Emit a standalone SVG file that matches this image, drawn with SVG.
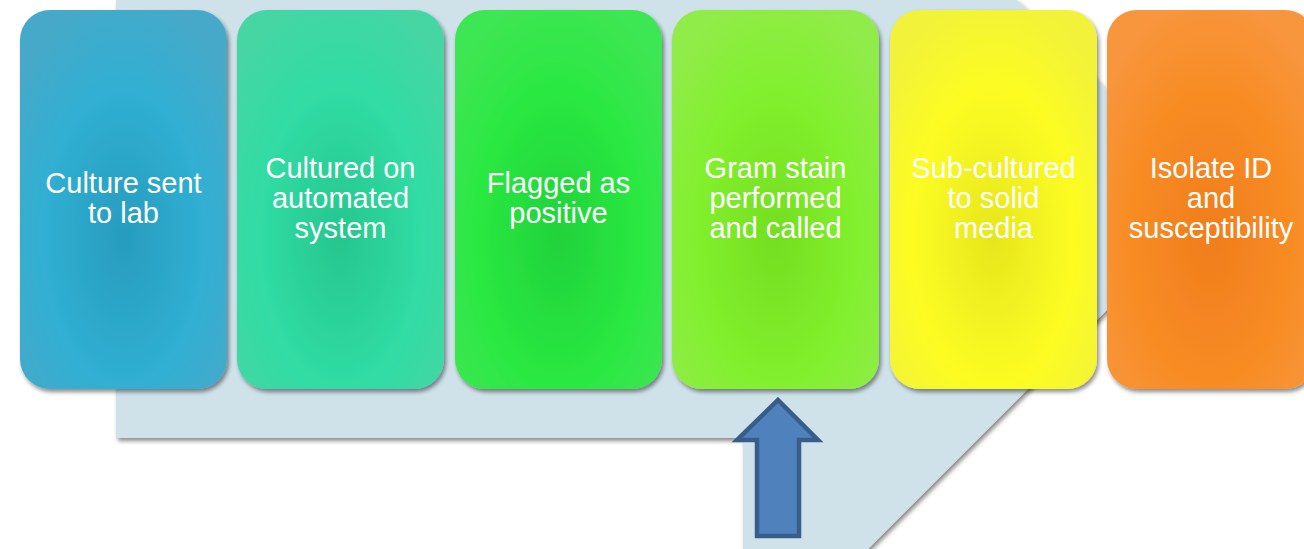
<svg xmlns="http://www.w3.org/2000/svg" width="1304" height="549" viewBox="0 0 1304 549">
<style>
.lbl{font-family:"Liberation Sans",Arial,sans-serif;font-size:29px;fill:#ffffff;text-anchor:middle}
.box{filter:url(#sh)}
</style>
<defs>
<filter id="sh" x="-10%" y="-10%" width="130%" height="130%">
<feDropShadow dx="2" dy="3" stdDeviation="2" flood-color="#000" flood-opacity="0.45"/>
</filter>
<radialGradient id="g1" cx="50%" cy="60%" r="65%"><stop offset="0" stop-color="#279cbe"/><stop offset="0.6" stop-color="#30afd2"/><stop offset="1" stop-color="#46a9c9"/></radialGradient>
<radialGradient id="g2" cx="50%" cy="60%" r="65%"><stop offset="0" stop-color="#26c68e"/><stop offset="0.6" stop-color="#30dca3"/><stop offset="1" stop-color="#44d6a4"/></radialGradient>
<radialGradient id="g3" cx="50%" cy="60%" r="65%"><stop offset="0" stop-color="#20d23a"/><stop offset="0.6" stop-color="#2ae842"/><stop offset="1" stop-color="#3ee652"/></radialGradient>
<radialGradient id="g4" cx="50%" cy="60%" r="65%"><stop offset="0" stop-color="#74de20"/><stop offset="0.6" stop-color="#82f02e"/><stop offset="1" stop-color="#90ec48"/></radialGradient>
<radialGradient id="g5" cx="50%" cy="60%" r="65%"><stop offset="0" stop-color="#e6e61e"/><stop offset="0.6" stop-color="#fcfc22"/><stop offset="1" stop-color="#f2f23a"/></radialGradient>
<radialGradient id="g6" cx="50%" cy="60%" r="65%"><stop offset="0" stop-color="#f07d1c"/><stop offset="0.6" stop-color="#f88c24"/><stop offset="1" stop-color="#f8963e"/></radialGradient>
</defs>
<g id="background">
<polygon points="116,0 1017,0 1217,200 868,549 743,549 743,438 116,438" fill="#cfe2ea" filter="url(#sh)"/>
</g>
<g id="connectors">
<polygon points="778,400 818,440 799,440 799,536 757,536 757,440 737,440" fill="#4f81bd" stroke="#385d8a" stroke-width="4.5" stroke-linejoin="miter"/>
</g>
<g id="n1"><rect class="box" x="20" y="10" width="207" height="379" rx="30" fill="url(#g1)"/>
<text class="lbl" x="123.5" y="193">Culture sent</text><text class="lbl" x="123.5" y="223">to lab</text></g>
<g id="n2"><rect class="box" x="237" y="10" width="207" height="379" rx="30" fill="url(#g2)"/>
<text class="lbl" x="340.5" y="178">Cultured on</text><text class="lbl" x="340.5" y="208">automated</text><text class="lbl" x="340.5" y="238">system</text></g>
<g id="n3"><rect class="box" x="455" y="10" width="207" height="379" rx="30" fill="url(#g3)"/>
<text class="lbl" x="558.5" y="193">Flagged as</text><text class="lbl" x="558.5" y="223">positive</text></g>
<g id="n4"><rect class="box" x="672" y="10" width="207" height="379" rx="30" fill="url(#g4)"/>
<text class="lbl" x="775.5" y="178">Gram stain</text><text class="lbl" x="775.5" y="208">performed</text><text class="lbl" x="775.5" y="238">and called</text></g>
<g id="n5"><rect class="box" x="890" y="10" width="207" height="379" rx="30" fill="url(#g5)"/>
<text class="lbl" x="993.5" y="178">Sub-cultured</text><text class="lbl" x="993.5" y="208">to solid</text><text class="lbl" x="993.5" y="238">media</text></g>
<g id="n6"><rect class="box" x="1107" y="10" width="208" height="379" rx="30" fill="url(#g6)"/>
<text class="lbl" x="1211" y="178">Isolate ID</text><text class="lbl" x="1211" y="208">and</text><text class="lbl" x="1211" y="238">susceptibility</text></g>
</svg>
